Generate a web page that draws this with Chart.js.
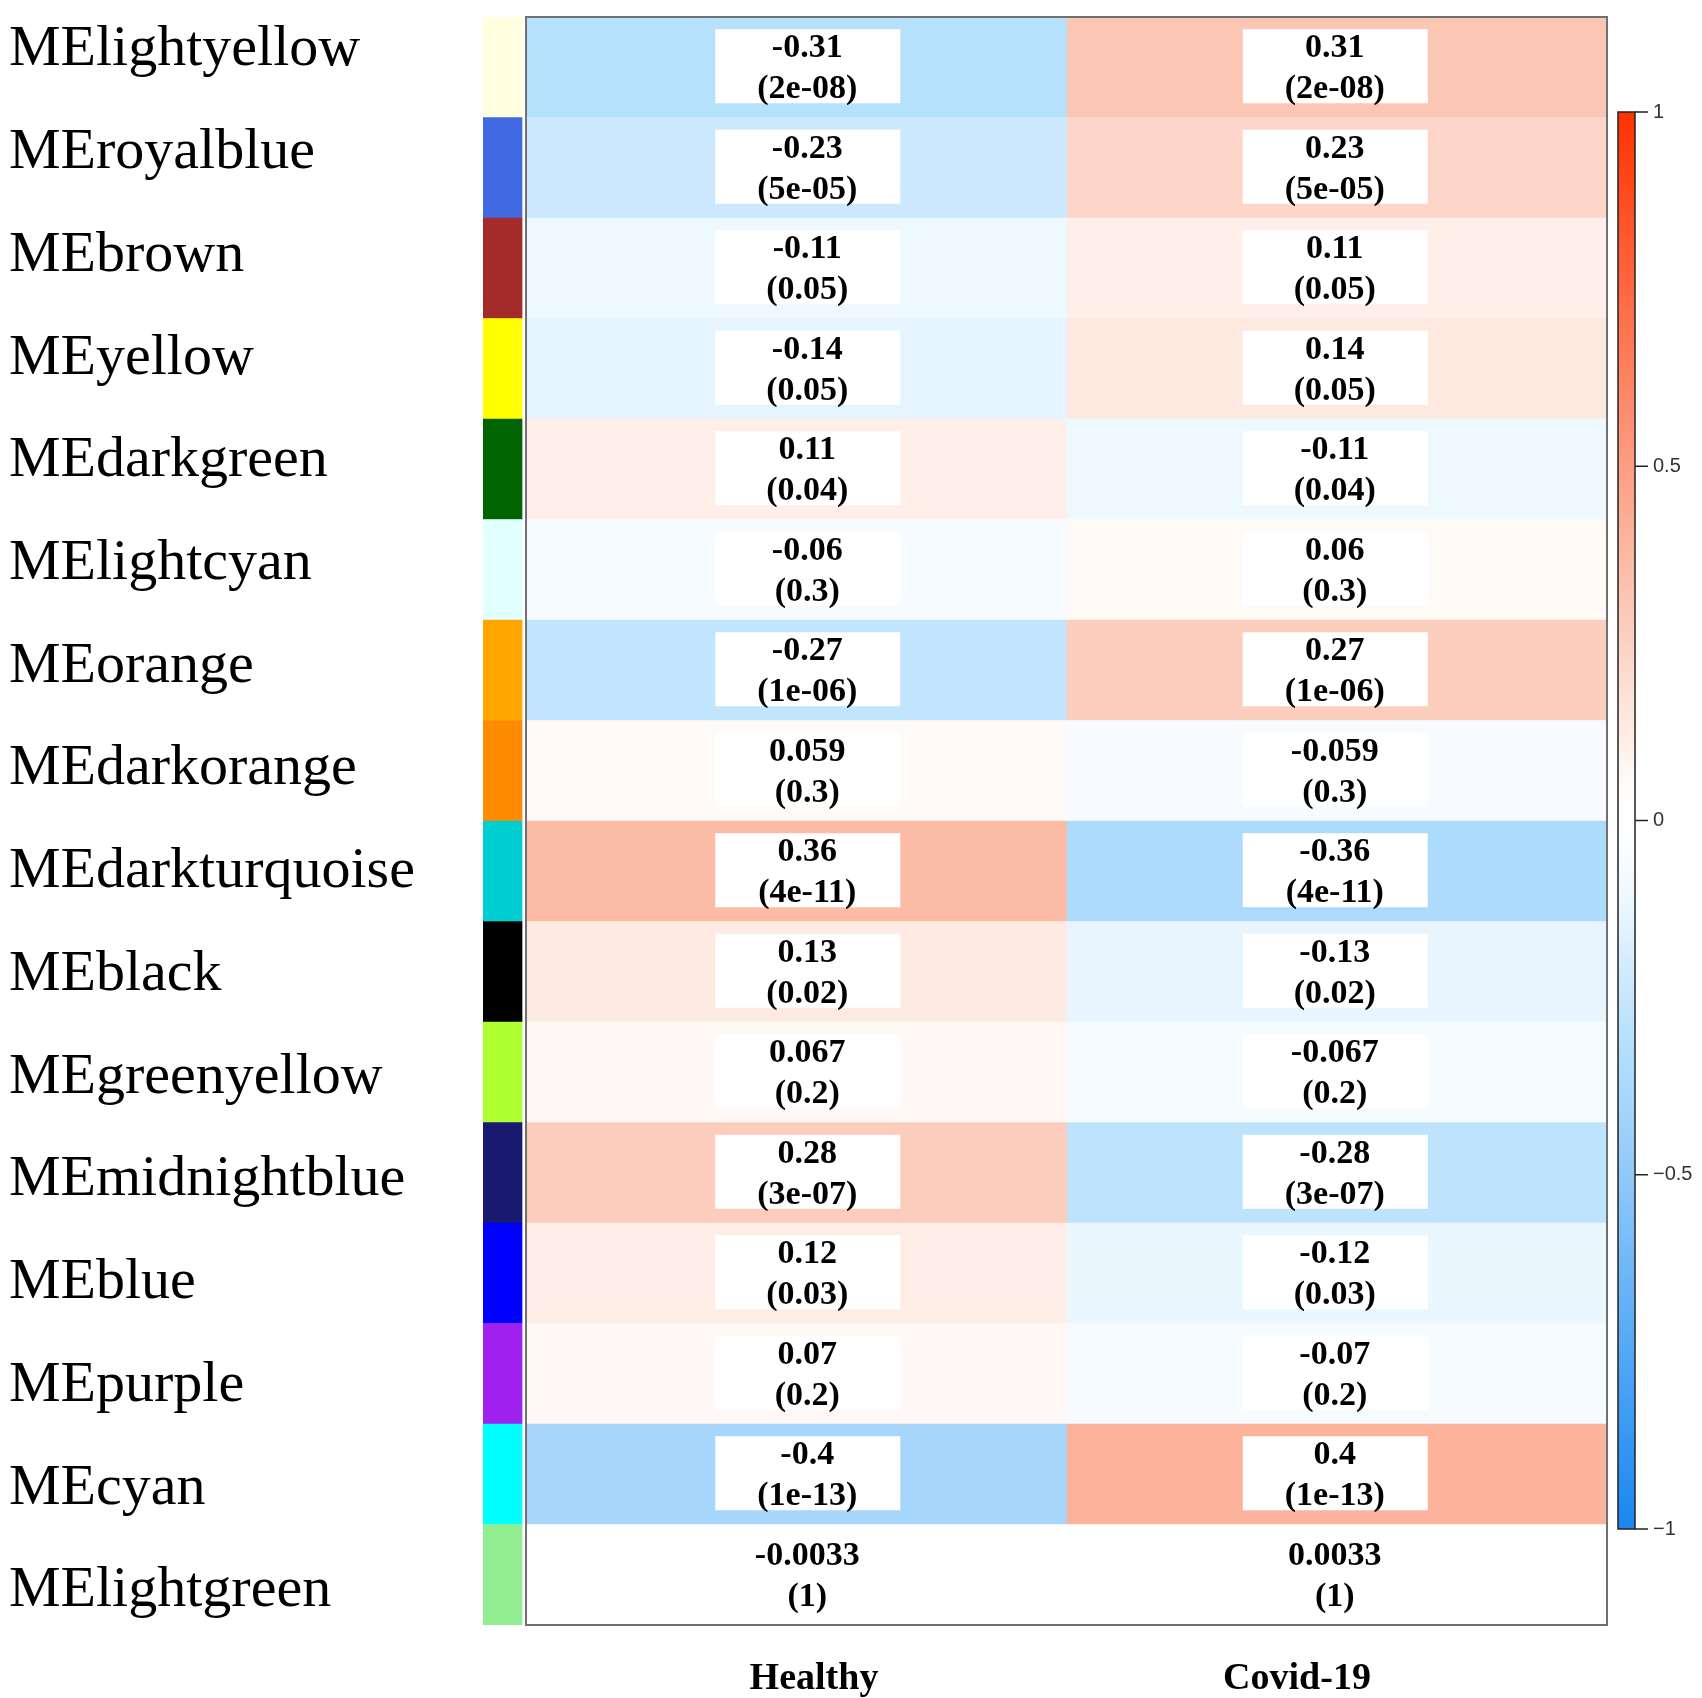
<!DOCTYPE html>
<html><head><meta charset="utf-8">
<script src="https://cdn.jsdelivr.net/npm/chart.js@4.4.0/dist/chart.umd.min.js"></script>
<style>html,body{margin:0;padding:0;background:#fff;}#wrap{width:1702px;height:1698px;}</style>
</head><body><div id="wrap"><canvas id="c" width="1702" height="1698"></canvas></div>
<script>
const modules = ['MElightyellow','MEroyalblue','MEbrown','MEyellow','MEdarkgreen','MElightcyan','MEorange','MEdarkorange','MEdarkturquoise','MEblack','MEgreenyellow','MEmidnightblue','MEblue','MEpurple','MEcyan','MElightgreen'];
const moduleColors = ['#ffffe0','#4169e1','#a52a2a','#ffff00','#006400','#e0ffff','#ffa500','#ff8c00','#00ced1','#000000','#adff2f','#191970','#0000ff','#a020f0','#00ffff','#90ee90'];
const traits = ['Healthy','Covid-19'];
const healthyCor = [-0.31,-0.23,-0.11,-0.14,0.11,-0.06,-0.27,0.059,0.36,0.13,0.067,0.28,0.12,0.07,-0.4,-0.0033];
const covidCor   = [0.31,0.23,0.11,0.14,-0.11,0.06,0.27,-0.059,-0.36,-0.13,-0.067,-0.28,-0.12,-0.07,0.4,0.0033];
const healthyP = ['2e-08','5e-05','0.05','0.05','0.04','0.3','1e-06','0.3','4e-11','0.02','0.2','3e-07','0.03','0.2','1e-13','1'];
const covidP   = ['2e-08','5e-05','0.05','0.05','0.04','0.3','1e-06','0.3','4e-11','0.02','0.2','3e-07','0.03','0.2','1e-13','1'];
const colorbarTicks = [1, 0.5, 0, -0.5, -1];

// blue-white-red palette stops (|value| -> rgb)
const posStops = [[0,[255,255,255]],[0.05,[255,252,249]],[0.13,[253,235,227]],[0.4,[252,179,156]],[1,[255,50,0]]];
const negStops = [[0,[255,255,255]],[0.05,[248,252,255]],[0.11,[238,248,255]],[0.23,[204,232,254]],[0.31,[182,225,253]],[0.4,[166,214,252]],[1,[25,135,240]]];
function corColor(v){
  const stops = v >= 0 ? posStops : negStops;
  const a = Math.min(1, Math.abs(v));
  let k = 0;
  while (k < stops.length - 2 && a > stops[k+1][0]) k++;
  const [a0, c0] = stops[k], [a1, c1] = stops[k+1];
  const t = (a - a0) / (a1 - a0);
  const c = c0.map((ch, n) => Math.round(ch + (c1[n] - ch) * t));
  return 'rgb(' + c.join(',') + ')';
}
const STRIP_L = -0.0796, STRIP_R = -0.0074;
const cols = [healthyCor, covidCor];
const pcols = [healthyP, covidP];
const textNudge = [11, -2];

const cellText = {
  id: 'cellText',
  afterDatasetsDraw(chart){
    const {ctx, scales:{x, y}, chartArea} = chart;
    ctx.save();
    for (let j = 0; j < cols.length; j++){
      for (let i = 0; i < modules.length; i++){
        const cx = x.getPixelForValue(j + 0.5) + textNudge[j];
        const cy = y.getPixelForValue(i);
        ctx.fillStyle = '#ffffff';
        ctx.fillRect(cx - 92, cy - 38, 185, 74);
        ctx.fillStyle = '#000';
        ctx.font = 'bold 34px "Liberation Serif"';
        ctx.textAlign = 'center';
        ctx.textBaseline = 'middle';
        ctx.fillText(String(cols[j][i]), cx, cy - 19);
        ctx.fillText('(' + pcols[j][i] + ')', cx, cy + 22);
      }
    }
    ctx.strokeStyle = '#707070';
    ctx.lineWidth = 2;
    const l = x.getPixelForValue(0), r = x.getPixelForValue(2);
    ctx.strokeRect(l, chartArea.top, r - l, chartArea.bottom - chartArea.top);
    ctx.restore();
  }
};

const colorbar = {
  id: 'colorbar',
  afterDraw(chart){
    const ctx = chart.ctx;
    const x0 = 1618, x1 = 1635, yT = 112, yB = 1529;
    ctx.save();
    const grad = ctx.createLinearGradient(0, yT, 0, yB);
    for (let k = 0; k <= 80; k++){
      grad.addColorStop(k/80, corColor(1 - k/40));
    }
    ctx.fillStyle = grad;
    ctx.fillRect(x0, yT, x1 - x0, yB - yT);
    ctx.strokeStyle = '#222';
    ctx.lineWidth = 1.5;
    ctx.strokeRect(x0, yT, x1 - x0, yB - yT);
    ctx.font = '20px "Liberation Sans"';
    ctx.fillStyle = '#333';
    ctx.textAlign = 'left';
    ctx.textBaseline = 'middle';
    colorbarTicks.forEach(v => {
      const yy = yT + (1 - v) / 2 * (yB - yT);
      ctx.beginPath(); ctx.moveTo(x1, yy); ctx.lineTo(x1 + 13, yy); ctx.stroke();
      const s = v < 0 ? '\u2212' + String(-v) : String(v);
      ctx.fillText(s, x1 + 18, yy);
    });
    ctx.restore();
  }
};

const barCommon = {grouped:false, barPercentage:1, categoryPercentage:1, borderWidth:0};
new Chart(document.getElementById('c').getContext('2d'), {
  type: 'bar',
  data: {
    labels: modules,
    datasets: [
      Object.assign({label:'module', data: modules.map(() => [STRIP_L, STRIP_R]), backgroundColor: moduleColors}, barCommon),
      Object.assign({label: traits[0], data: healthyCor.map(() => [0, 1]), backgroundColor: healthyCor.map(corColor)}, barCommon),
      Object.assign({label: traits[1], data: covidCor.map(() => [1, 2]), backgroundColor: covidCor.map(corColor)}, barCommon)
    ]
  },
  options: {
    indexAxis: 'y',
    responsive: false,
    animation: false,
    layout: {padding: {left: 9, right: 95, top: 17, bottom: 0}},
    plugins: {legend: {display: false}, tooltip: {enabled: false}},
    scales: {
      y: { type: 'category', offset: true, display: false },
      x: { type: 'linear', min: STRIP_L, max: 2, display: false },
      // label axes: row names and trait names as placed in the original figure
      yl: {
        type: 'linear', position: 'left', reverse: true, offset: false,
        min: -0.3222, max: 15.331,
        grid: {display: false, offset: false}, border: {display: false},
        afterBuildTicks(a){ a.ticks = modules.map((m, i) => ({value: i})); },
        ticks: {autoSkip: false, crossAlign: 'far', color: '#000', padding: 0,
                font: {family: 'Liberation Serif', size: 58},
                callback: (v) => modules[v]},
        afterFit(a){ a.width = 474; a.paddingTop = 0; a.paddingBottom = 0; }
      },
      xl: {
        type: 'linear', position: 'bottom', offset: false, min: -0.1853, max: 2.1418,
        grid: {display: false, offset: false}, border: {display: false},
        afterBuildTicks(a){ a.ticks = traits.map((t, i) => ({value: i + 0.5})); },
        ticks: {
          autoSkip: false, maxRotation: 0, color: '#000', padding: 23,
          font: {family: 'Liberation Serif', size: 38, weight: 'bold'},
          callback: (v) => traits[Math.floor(v)]
        },
        afterFit(a){ a.height = 73; a.paddingLeft = 0; a.paddingRight = 0; }
      }
    }
  },
  plugins: [cellText, colorbar]
});
</script></body></html>
